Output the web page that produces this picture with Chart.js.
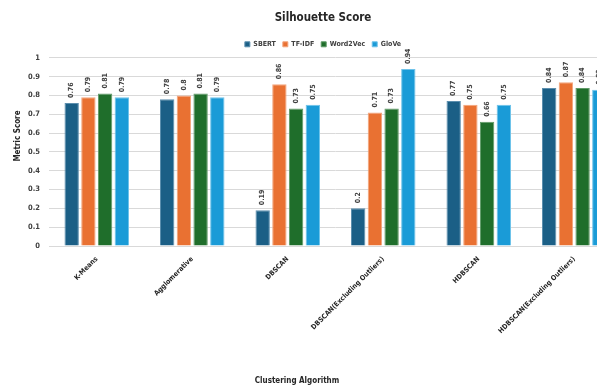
<!DOCTYPE html>
<html>
<head>
<meta charset="utf-8">
<script src="https://cdn.jsdelivr.net/npm/chart.js@4/dist/chart.umd.min.js"></script>
<style>
  html, body { margin: 0; padding: 0; background: #fff; overflow: hidden; }
  #wrap { width: 597px; height: 392px; overflow: hidden; position: relative; }
  canvas { display: block; }
</style>
</head>
<body>
<div id="wrap"><canvas id="chart" width="632" height="392"></canvas></div>
<script>
const categories = [
  "K-Means",
  "Agglomerative",
  "DBSCAN",
  "DBSCAN(Excluding Outliers)",
  "HDBSCAN",
  "HDBSCAN(Excluding Outliers)"
];
const sbert    = [0.76, 0.78, 0.19, 0.2, 0.77, 0.84];
const tfidf    = [0.79, 0.8, 0.86, 0.71, 0.75, 0.87];
const word2vec = [0.81, 0.81, 0.73, 0.73, 0.66, 0.84];
const glove    = [0.79, 0.79, 0.75, 0.94, 0.75, 0.83];
const yTicks   = [0, 0.1, 0.2, 0.3, 0.4, 0.5, 0.6, 0.7, 0.8, 0.9, 1];

const FONT = '"Liberation Sans Narrow", "DejaVu Sans Condensed", "Liberation Sans", sans-serif';
const TEXT = '#404040';

// Rotated value labels above each bar
const valueLabels = {
  id: 'valueLabels',
  afterDatasetsDraw(chart) {
    const ctx = chart.ctx;
    ctx.save();
    ctx.font = 'bold 7px ' + FONT;
    ctx.fillStyle = TEXT;
    ctx.textAlign = 'left';
    ctx.textBaseline = 'middle';
    chart.data.datasets.forEach((ds, i) => {
      chart.getDatasetMeta(i).data.forEach((bar, j) => {
        ctx.save();
        ctx.translate(bar.x, bar.y - 5);
        ctx.rotate(-Math.PI / 2);
        ctx.fillText(String(ds.data[j]), 0, 0);
        ctx.restore();
      });
    });
    ctx.restore();
  }
};

// Axis titles
const axisTitles = {
  id: 'axisTitles',
  afterDraw(chart) {
    const ctx = chart.ctx;
    ctx.save();
    ctx.font = 'bold 8px ' + FONT;
    ctx.fillStyle = '#262626';
    ctx.textAlign = 'center';
    ctx.textBaseline = 'middle';
    ctx.fillText('Clustering Algorithm', 297, 381);
    ctx.translate(18, 136);
    ctx.rotate(-Math.PI / 2);
    ctx.fillText('Metric Score', 0, 0);
    ctx.restore();
  }
};

function ds(label, data, color, edge) {
  return {
    label, data,
    backgroundColor: color,
    borderColor: edge,
    borderWidth: 1,
    categoryPercentage: 0.7,
    barPercentage: 0.86
  };
}

new Chart(document.getElementById('chart'), {
  type: 'bar',
  data: {
    labels: categories,
    datasets: [
      ds('SBERT', sbert, '#1b5f86', '#5c8fae'),
      ds('TF-IDF', tfidf, '#e97132', '#f3a57c'),
      ds('Word2Vec', word2vec, '#1f6e2b', '#5f9a67'),
      ds('GloVe', glove, '#1a9bd7', '#6fc3ea')
    ]
  },
  options: {
    responsive: false,
    animation: false,
    devicePixelRatio: 1,
    layout: { padding: { left: 24, right: 10, top: 7, bottom: 0 } },
    plugins: {
      title: {
        display: true,
        text: 'Silhouette Score',
        color: '#262626',
        font: { family: FONT, size: 11.5, weight: 'bold' },
        padding: { top: 4, bottom: 9 }
      },
      legend: {
        display: true,
        labels: {
          color: TEXT,
          font: { family: FONT, size: 7, weight: 'bold' },
          boxWidth: 5, boxHeight: 5,
          padding: 7
        }
      },
      tooltip: { enabled: false }
    },
    scales: {
      x: {
        grid: { display: false, drawTicks: false },
        border: { color: '#d9d9d9', width: 1 },
        ticks: {
          color: '#262626',
          font: { family: FONT, size: 7, weight: 'bold' },
          maxRotation: 45, minRotation: 45,
          padding: 9,
          autoSkip: false
        },
        afterFit(scale) { scale.height = 146; }
      },
      y: {
        min: 0, max: 1,
        afterBuildTicks(scale) { scale.ticks = yTicks.map(v => ({ value: v })); },
        grid: { color: '#d9d9d9', drawTicks: false },
        border: { display: false },
        ticks: {
          color: TEXT,
          font: { family: FONT, size: 7.5, weight: 'bold' },
          padding: 9,
          callback: v => String(v)
        },
        afterFit(scale) { scale.width = 25; }
      }
    }
  },
  plugins: [valueLabels, axisTitles]
});
</script>
</body>
</html>
